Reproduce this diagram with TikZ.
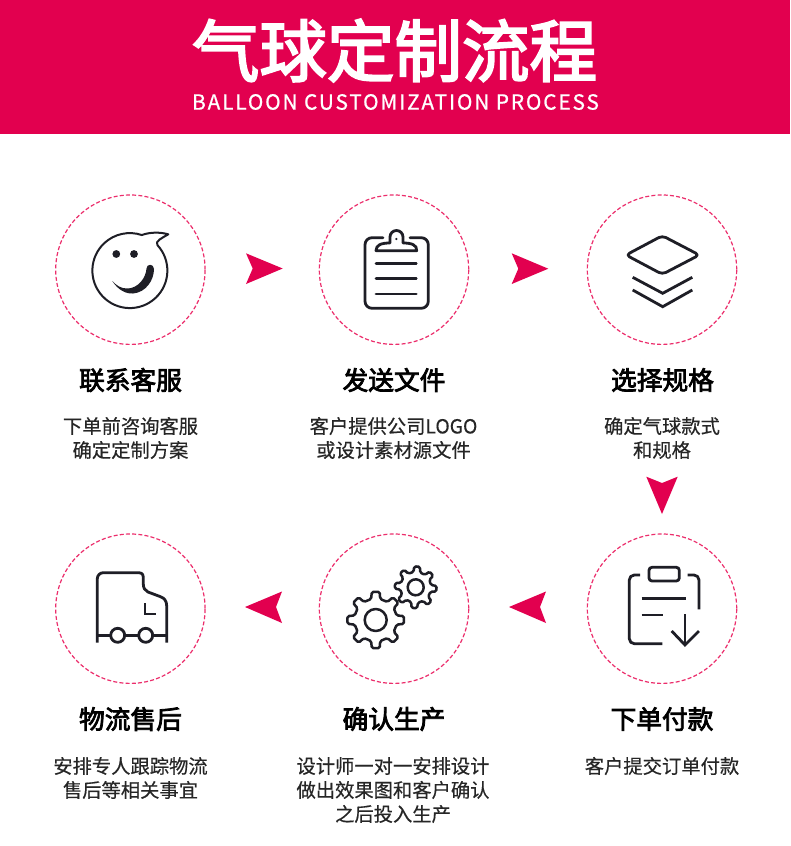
\documentclass[tikz,border=0pt]{standalone}
\usepackage{fontspec}
\setmainfont{Noto Sans CJK SC}
\newfontfamily\titlefont[FakeBold=3]{Noto Sans CJK SC}
\newfontfamily\subfont[FakeBold=0.8,LetterSpace=9]{Noto Sans CJK SC}
\newfontfamily\headfont[FakeBold=3]{Noto Sans CJK SC}
\newfontfamily\bodyfont[FakeBold=0.4]{Noto Sans CJK SC}
\definecolor{crim}{HTML}{E2004F}
\definecolor{dashpink}{HTML}{EC2E6C}
\definecolor{ink}{HTML}{1E1E26}
\tikzset{
  ring/.style={circle,draw=dashpink,line width=1.2pt,dash pattern=on 4pt off 2.2pt,minimum size=149.4pt,inner sep=0pt},
  chev/.style={fill=crim,draw=none},
  icon/.style={draw=ink,line width=2.8pt,line cap=round,line join=round},
  headtxt/.style={font=\headfont\fontsize{25.7}{30}\selectfont,text=black,inner sep=0pt,anchor=center},
  bodytxt/.style={font=\bodyfont\fontsize{19.3}{24}\selectfont,text=black!85,inner sep=0pt,anchor=center,align=center},
}
\begin{document}
\begin{tikzpicture}[x=1pt,y=1pt,yscale=-1]
\useasboundingbox (0,0) rectangle (790,846);
\fill[white] (0,0) rectangle (790,846);
\fill[crim] (0,0) rectangle (790,134);
\node[inner sep=0pt,text=white,font=\titlefont\fontsize{67.5}{70}\selectfont] (title) at (394.5,50.5) {气球定制流程};
\node[inner sep=0pt,text=white,font=\subfont\fontsize{20.8}{26}\selectfont] (sub) at (395.5,102) {BALLOON CUSTOMIZATION PROCESS};

% rings
\node[ring] (r1) at (130.4,269.7) {};
\node[ring] (r2) at (394,269.7) {};
\node[ring] (r3) at (662,269.7) {};
\node[ring] (r4) at (662,608.7) {};
\node[ring] (r5) at (394,608.7) {};
\node[ring] (r6) at (130.4,608.7) {};

% chevrons
\fill[chev] (246,253.3) -- (282.7,268.5) -- (246,284) -- (252.7,268.5) -- cycle;
\fill[chev] (511.7,253.3) -- (548.3,268.7) -- (511.7,284) -- (518.3,268.7) -- cycle;
\fill[chev] (646.3,476.7) -- (662,514) -- (677.7,476.7) -- (662,483) -- cycle;
\fill[chev] (546,591.5) -- (509,607) -- (546,623) -- (540,607) -- cycle;
\fill[chev] (282,591.5) -- (245,607) -- (282,623) -- (276,607) -- cycle;

% smiley
\draw[icon,line width=2pt] (157.3,245) arc[start angle=-43,end angle=288.6,radius=37.5]
  .. controls (150,232) and (160,232) .. (168.3,234.3)
  .. controls (162,238) and (155,241) .. (157.3,245);
\fill[ink] (116.3,254) circle[radius=3.9] (134,254) circle[radius=3.9];
\fill[ink] (112.3,281) .. controls (118,290) and (126,294) .. (133,293.5)
  .. controls (146,292.5) and (154,280) .. (154,269)
  .. controls (154,263.5) and (146.5,263.5) .. (146.5,268.5)
  .. controls (146,278) and (138,288) .. (128,288.5)
  .. controls (121,289) and (116,285) .. (112.3,281) -- cycle;

% clipboard
\draw[icon] (383,237.7) -- (372,237.7) arc[start angle=270,end angle=180,radius=7]
  -- (365,301.3) arc[start angle=180,end angle=90,radius=7]
  -- (421.3,308.3) arc[start angle=90,end angle=0,radius=7]
  -- (428.3,244.7) arc[start angle=0,end angle=-90,radius=7] -- (410,237.7);
\draw[icon] (376,250.7) -- (416.7,250.7) .. controls (417,245) and (412,243) .. (403,243)
  -- (403,237) arc[start angle=0,end angle=-180,radius=6.5]
  -- (390,243) .. controls (381,243) and (376,245) .. (376,250.7) -- cycle;
\fill[ink] (396.4,239) circle[radius=1.2];
\draw[icon] (376,263.3) -- (416.3,263.3) (376,278.7) -- (416.3,278.7) (376,294) -- (416.3,294);

% layers
\draw[icon,rounded corners=4pt] (626,255) -- (662.3,235.7) -- (699.3,255) -- (662.3,274.3) -- cycle;
\draw[icon,line cap=butt,line join=miter] (632.7,277.3) -- (662.7,293.3) -- (692.3,277.3);
\draw[icon,line cap=butt,line join=miter] (632.7,290) -- (662.7,306.7) -- (692.3,290);

% payment
\draw[icon,rounded corners=3pt] (649,567.3) rectangle (679.3,581);
\draw[icon,line cap=butt] (640,575) -- (634.3,575) arc[start angle=270,end angle=180,radius=5]
  -- (629.3,638.7) arc[start angle=180,end angle=90,radius=5] -- (662.3,643.7);
\draw[icon,line cap=butt] (687.7,575) -- (694,575) arc[start angle=-90,end angle=0,radius=5] -- (699,609.3);
\draw[icon,line cap=butt] (641.7,598.7) -- (686,598.7) (641.7,615) -- (662.7,615);
\draw[icon,line cap=butt] (685,614) -- (685,645);
\draw[icon,line cap=butt,line join=miter] (671.7,631) -- (685,645) -- (699,631);

% gears
\foreach \cx/\cy/\ro/\rr/\ri/\rot in {375.7/620/28.5/21.5/11/0,415.7/587.3/21/15.5/8/4}{
  \begin{scope}[shift={(\cx,\cy)},rotate=\rot]
    \draw[icon,line width=2.5pt,rounded corners=1.6pt]
      (-12:\rr) -- (-8:\ro) -- (8:\ro) -- (12:\rr)
      -- (33:\rr) -- (37:\ro) -- (53:\ro) -- (57:\rr)
      -- (78:\rr) -- (82:\ro) -- (98:\ro) -- (102:\rr)
      -- (123:\rr) -- (127:\ro) -- (143:\ro) -- (147:\rr)
      -- (168:\rr) -- (172:\ro) -- (188:\ro) -- (192:\rr)
      -- (213:\rr) -- (217:\ro) -- (233:\ro) -- (237:\rr)
      -- (258:\rr) -- (262:\ro) -- (278:\ro) -- (282:\rr)
      -- (303:\rr) -- (307:\ro) -- (323:\ro) -- (327:\rr) -- cycle;
    \draw[icon,line width=2.5pt] (0,0) circle[radius=\ri];
  \end{scope}
}

% truck
\draw[icon,line cap=butt] (97.3,642.7) -- (97.3,578.7) arc[start angle=180,end angle=270,radius=6]
  -- (138,572.7) .. controls (142,572.7) and (143.3,574) .. (143.3,578)
  -- (143.3,584) .. controls (143.3,588) and (145,590.5) .. (148,592)
  -- (160,596.5) .. controls (164.5,598) and (166.7,601) .. (166.7,606) -- (166.7,642.7);
\draw[icon,line cap=butt] (97.3,635.3) -- (110.7,635.3) (124.7,635.3) -- (138.7,635.3) (152.7,635.3) -- (166.7,635.3);
\draw[icon] (117.7,635.3) circle[radius=7] (145.7,635.3) circle[radius=7];
\draw[icon,line cap=butt,line join=miter] (145,603.3) -- (145,614) -- (155.7,614);

% headings
\node[headtxt] (h1) at (130.5,380) {联系客服};
\node[headtxt] (h2) at (394,380) {发送文件};
\node[headtxt] (h3) at (662.5,380) {选择规格};
\node[headtxt] (h4) at (662,719) {下单付款};
\node[headtxt] (h5) at (394,719) {确认生产};
\node[headtxt] (h6) at (130.5,719) {物流售后};

% body texts
\node[bodytxt] (b1) at (130.5,438) {下单前咨询客服\\确定定制方案};
\node[bodytxt] (b2) at (393.5,438) {客户提供公司LOGO\\或设计素材源文件};
\node[bodytxt] (b3) at (662,438) {确定气球款式\\和规格};
\node[bodytxt] (b4) at (662,766) {客户提交订单付款};
\node[bodytxt] (b5) at (393,790) {设计师一对一安排设计\\做出效果图和客户确认\\之后投入生产};
\node[bodytxt] (b6) at (130.5,778) {安排专人跟踪物流\\售后等相关事宜};
\end{tikzpicture}
\end{document}
